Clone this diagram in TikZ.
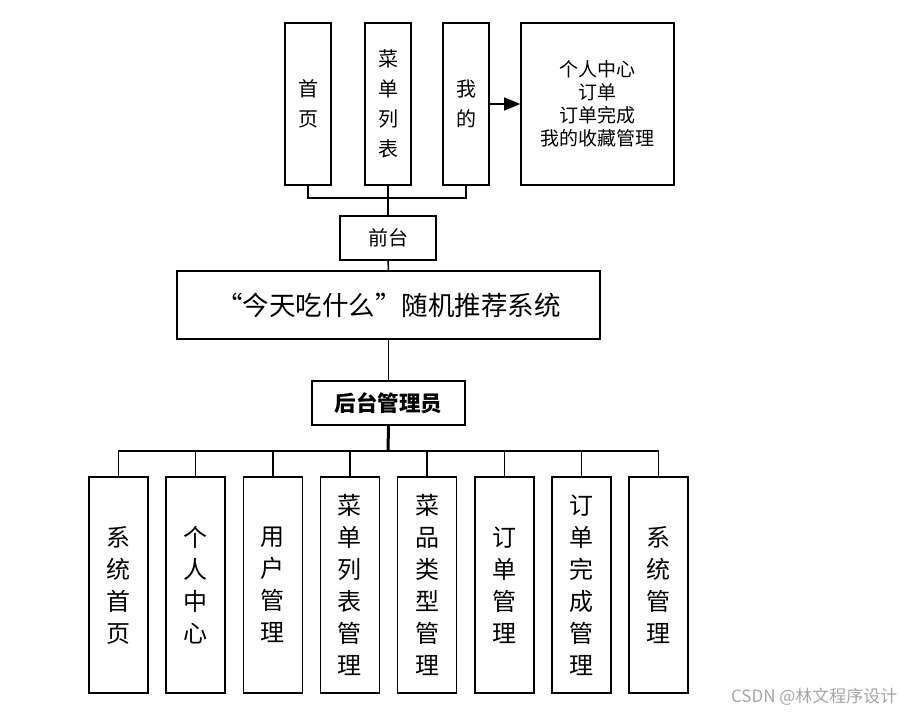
\documentclass[tikz,border=0pt]{standalone}
\usepackage{fontspec}
\setmainfont{Noto Sans CJK SC}
\usepackage{tikz}
\usetikzlibrary{arrows.meta}

\begin{document}
\begin{tikzpicture}[x=1pt,y=-1pt,
    box/.style={draw=black,line width=1.6pt,inner sep=0pt,align=center},
    col/.style={box,minimum width=46pt,minimum height=162pt,font=\fontsize{20}{30}\selectfont},
    leaf/.style={box,minimum width=59pt,minimum height=216pt,font=\fontsize{24}{32}\selectfont},
    wire/.style={draw=black,line width=1.5pt}]
  \useasboundingbox (0,0) rectangle (903,713);
  % front end
  \node[col] (home) at (308,104) {首\\页};
  \node[col] (menu) at (388,104) {菜\\单\\列\\表};
  \node[col] (mine) at (466,104) {我\\的};
  \node[box,minimum width=153pt,minimum height=162pt,font=\fontsize{19}{23}\selectfont] (mypage) at (597.5,104) {个人中心\\订单\\订单完成\\我的收藏管理};
  \node[box,minimum width=96pt,minimum height=44pt,font=\fontsize{20}{20}\selectfont] (front) at (388,238) {前台};
  % system
  \node[box,minimum width=423pt,minimum height=68pt,font=\fontsize{26.5}{26.5}\selectfont] (sys) at (388.5,305) {“今天吃什么”随机推荐系统};
  \node[box,minimum width=153pt,minimum height=44pt,font=\fontsize{21.5}{21.5}\selectfont\bfseries] (admin) at (388.5,403) {后台管理员};
  % back end
  \foreach \i/\txt in {1/系\\统\\首\\页, 2/个\\人\\中\\心, 3/用\\户\\管\\理, 4/菜\\单\\列\\表\\管\\理,
                       5/菜\\品\\类\\型\\管\\理, 6/订\\单\\管\\理, 7/订\\单\\完\\成\\管\\理, 8/系\\统\\管\\理} {
    \node[leaf] (leaf\i) at ({118.5+77.15*(\i-1)},585) {\txt};
  }
  \node[font=\fontsize{17}{17}\selectfont,text=black!35,anchor=east] (mark) at (901,697) {CSDN @林文程序设计};
  % connectors
  \coordinate (fbus) at (388,198);
  \coordinate (abus) at (388,451);
  \draw[wire] (home.south) |- (fbus) -| (mine.south);
  \draw[wire] (menu.south) -- (front.north);
  \draw[wire,-{Triangle[length=16pt,width=13pt]}] (mine.east) -- (mypage.west);
  \draw[wire] (front.south) -- (sys.north);
  \draw[wire] (sys.south) -- (admin.north);
  \draw[black,line width=3pt] (admin.south) -- (abus);
  \foreach \i in {1,...,8} {
    \draw[wire] (abus) -| (leaf\i.north);
  }
\end{tikzpicture}
\end{document}
